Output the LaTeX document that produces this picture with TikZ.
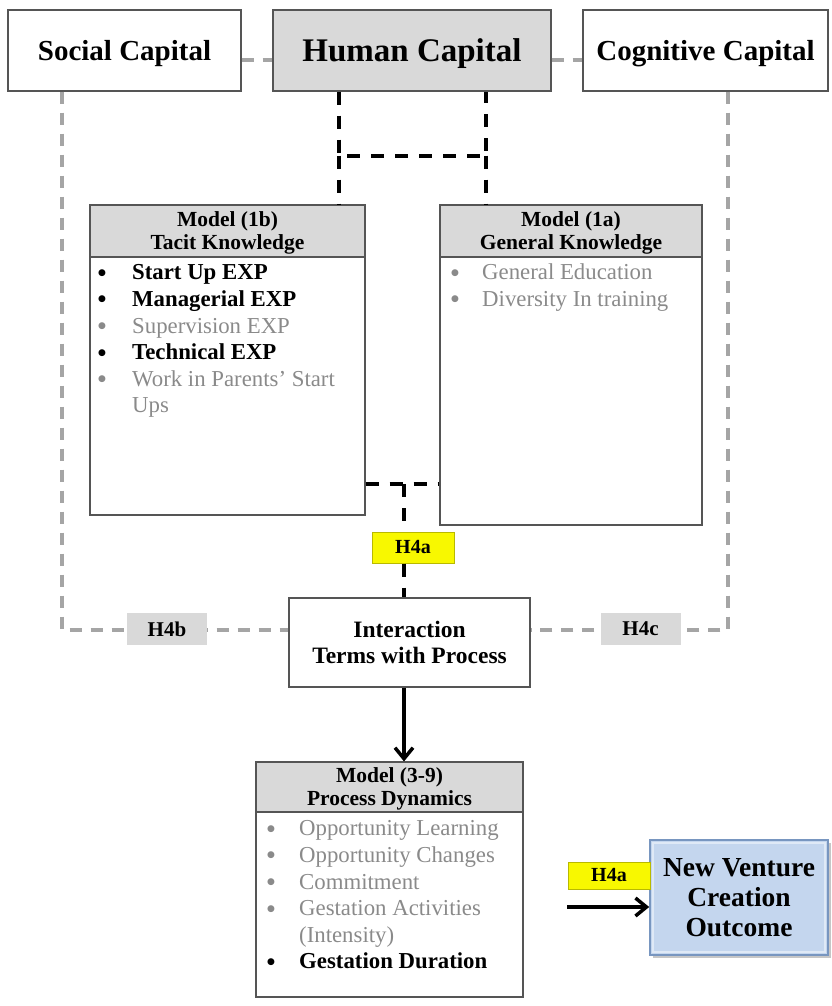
\documentclass[tikz,border=0pt]{standalone}
\usepackage{fontspec}
\setmainfont{Liberation Serif}
\newfontfamily\symbolfont{DejaVu Sans}
\usetikzlibrary{arrows.meta,calc,shadows}

\definecolor{boxline}{RGB}{85,85,85}
\definecolor{hdrfill}{RGB}{217,217,217}
\definecolor{dashgray}{RGB}{165,165,165}
\definecolor{txtgray}{RGB}{138,138,138}
\definecolor{hypyellow}{RGB}{248,248,0}
\definecolor{hypedge}{RGB}{185,185,0}
\definecolor{nvfill}{RGB}{196,214,238}
\definecolor{nvedge}{RGB}{120,150,192}
\definecolor{labgray}{RGB}{217,217,217}

% round bullet, small glyph box so rows stay clear of each other
\newcommand{\bulletmark}{{\symbolfont\fontsize{9}{9}\selectfont\raisebox{4.5pt}{●}}}
% list rows: grey plain item / black bold item
\newcommand{\grayitem}[1]{\textcolor{txtgray}{\bulletmark}&\textcolor{txtgray}{#1}\\}
\newcommand{\bolditem}[1]{\bulletmark&\textbf{#1}\\}

\begin{document}
\begin{tikzpicture}[x=1pt,y=-1pt,
  capbox/.style={draw=boxline, line width=1.1pt, minimum height=81pt, inner sep=0pt, text depth=0pt},
  capfont/.style={font=\fontsize{29}{33}\selectfont\bfseries},
  modelbox/.style={draw=boxline, line width=1.1pt, inner sep=0pt},
  hdrbox/.style={draw=boxline, line width=1.1pt, fill=hdrfill, inner sep=0pt, align=center,
    font=\fontsize{21.5}{23}\selectfont\bfseries, anchor=north, text depth=-6pt},
  listtext/.style={anchor=north west, inner sep=0pt, font=\fontsize{22.8}{26.6}\selectfont},
  blackdash/.style={line width=4pt, dash pattern=on 13pt off 11pt},
  graydash/.style={draw=dashgray, line width=4pt, dash pattern=on 12pt off 9pt},
  hyplabel/.style={fill=hypyellow, draw=hypedge, line width=1pt, inner sep=0pt,
    font=\fontsize{20}{22}\selectfont\bfseries},
  graylabel/.style={fill=labgray, inner sep=0pt, minimum width=80pt, minimum height=32pt,
    font=\fontsize{21}{22}\selectfont\bfseries},
  flowarrow/.style={line width=3.5pt, -{Straight Barb[length=11pt,width=18pt,line width=3.5pt]}}
]
\useasboundingbox (0,0) rectangle (832,1006);

% capital boxes
\node[capbox, capfont, minimum width=233pt] (sc) at (124.5,50.5) {Social Capital};
\node[capbox, fill=hdrfill, font=\fontsize{33}{36}\selectfont\bfseries, minimum width=278pt] (hc) at (412,50.5) {Human Capital};
\node[capbox, capfont, minimum width=245pt] (cc) at (705.5,50.5) {Cognitive Capital};

% model boxes
\node[modelbox, minimum width=275pt, minimum height=310pt] (m1b) at (227.5,360) {};
\node[hdrbox, minimum width=275pt, minimum height=52pt] (m1bh) at (m1b.north) {Model (1b)\\Tacit Knowledge};
\node[listtext] (l1b) at (98,261) {\begin{tabular}{@{}p{34pt}@{}l@{}}
  \bolditem{Start Up EXP}
  \bolditem{Managerial EXP}
  \grayitem{Supervision EXP}
  \bolditem{Technical EXP}
  \grayitem{Work in Parents’ Start}
  & \textcolor{txtgray}{Ups}\\
\end{tabular}};

\node[modelbox, minimum width=262pt, minimum height=320pt] (m1a) at (571,365) {};
\node[hdrbox, minimum width=262pt, minimum height=52pt] (m1ah) at (m1a.north) {Model (1a)\\General Knowledge};
\node[listtext] (l1a) at (451,261) {\begin{tabular}{@{}p{31pt}@{}l@{}}
  \grayitem{General Education}
  \grayitem{Diversity In training}
\end{tabular}};

\node[modelbox, minimum width=241pt, minimum height=89pt, align=center,
  font=\fontsize{23.5}{26}\selectfont\bfseries] (inter) at (409.5,642.5) {Interaction\\Terms with Process};

\node[modelbox, minimum width=267pt, minimum height=235pt] (m39) at (389.5,879.5) {};
\node[hdrbox, minimum width=267pt, minimum height=50pt] (m39h) at (m39.north) {Model (3-9)\\Process Dynamics};
\node[listtext] (l39) at (267,817) {\begin{tabular}{@{}p{32pt}@{}l@{}}
  \grayitem{Opportunity Learning}
  \grayitem{Opportunity Changes}
  \grayitem{Commitment}
  \grayitem{Gestation Activities}
  & \textcolor{txtgray}{(Intensity)}\\
  \bolditem{Gestation Duration}
\end{tabular}};

% outcome box with a bevelled frame
\node[draw=nvedge, line width=1.6pt, fill=nvfill,
  drop shadow={opacity=0.45, shadow xshift=2.5pt, shadow yshift=-2.5pt},
  minimum width=178pt, minimum height=115pt, inner sep=0pt, align=center,
  font=\fontsize{27.5}{30}\selectfont\bfseries] (nv) at (739,897.5) {New Venture\\Creation\\Outcome};
\draw[white!45!nvfill, line width=2pt]
  ([shift={(3.5pt,-3.5pt)}]nv.north west) rectangle ([shift={(-3.5pt,3.5pt)}]nv.south east);

% grey dashed links between capitals and to the interaction box
\draw[graydash] ([yshift=-9.5pt]sc.east) -- ([yshift=-9.5pt]hc.west);
\draw[graydash] ([yshift=-9.5pt]hc.east) -- ([yshift=-9.5pt]cc.west);
\draw[graydash] ([xshift=-62.5pt]sc.south) |- ([yshift=12.5pt]inter.west);
\draw[graydash] ([xshift=22.5pt]cc.south) |- ([yshift=12.5pt]inter.east);

% black dashed bracket from human capital to the two models
\coordinate (hl) at ([xshift=-73pt]hc.south);
\coordinate (hr) at ([xshift=74pt]hc.south);
\draw[blackdash] (hl) -- ([yshift=-64pt]hl) -- ([yshift=-64pt]hr) -- (hr);
\draw[blackdash] ([yshift=-64pt]hl) -- (hl |- m1b.north);
\draw[blackdash] ([yshift=-64pt]hr) -- (hr |- m1a.north);

% hypothesis labels
\node[graylabel] (h4b) at (167,629) {H4b};
\node[graylabel] (h4c) at (640.5,629) {H4c};
\node[hyplabel, minimum width=82pt, minimum height=31pt] (h4a) at (413,547.5) {H4a};
\node[hyplabel, minimum width=82pt, minimum height=27pt] (h4b2) at (609,875.5) {H4a};

% junction between the two models down to the interaction box
\coordinate (jn) at (404,484);
\draw[blackdash] (jn -| m1b.east) -- (jn -| m1a.west);
\draw[blackdash] (jn) -- (jn |- h4a.north);
\draw[blackdash] (h4a.south -| jn) -- (inter.north -| jn);

% solid arrows
\draw[flowarrow] (inter.south -| jn) -- (m39.north -| jn);
\coordinate (outstart) at (567,907);
\draw[flowarrow] (outstart) -- (outstart -| nv.west);
\end{tikzpicture}
\end{document}
